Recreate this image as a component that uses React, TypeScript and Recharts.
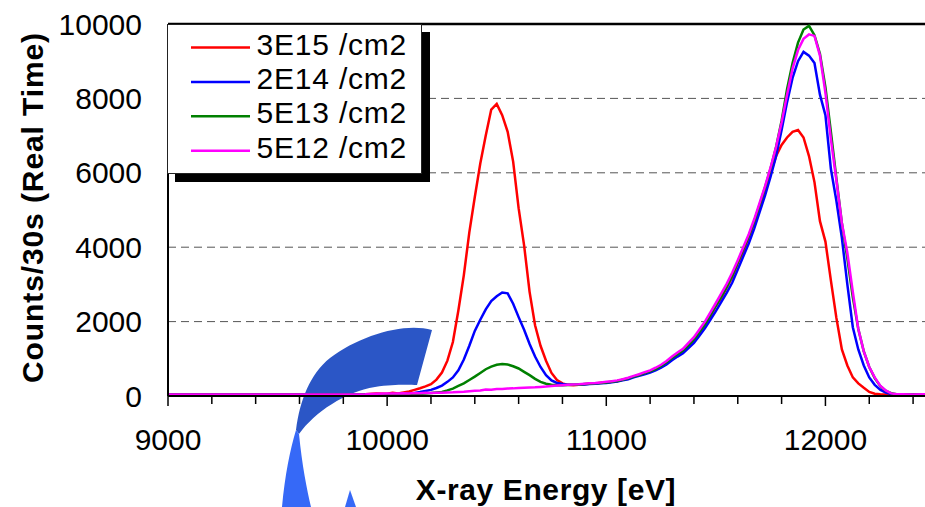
import React from "react"
import {
  LineChart,
  Line,
  XAxis,
  YAxis,
  CartesianGrid,
  Legend,
  ReferenceLine,
  Customized,
} from "recharts"

const FONT = "'Liberation Sans', Arial, sans-serif"

// X-ray energy in eV
const ENERGY = [
  9000, 9250, 9500, 9750, 9900, 9950,
  10000, 10025, 10050, 10075, 10100, 10125, 10150, 10175, 10200, 10225,
  10250, 10275, 10300, 10325, 10350, 10375, 10400, 10425, 10450, 10475,
  10500, 10525, 10550, 10575, 10600, 10625, 10650, 10675, 10700, 10725,
  10750, 10775, 10800, 10825, 10850, 10875, 10900, 10925, 10950, 10975,
  11000, 11025, 11050, 11075, 11100, 11125, 11150, 11175, 11200, 11225,
  11250, 11275, 11300, 11325, 11350, 11375, 11400, 11425, 11450, 11475,
  11500, 11525, 11550, 11575, 11600, 11625, 11650, 11675, 11700, 11725,
  11750, 11775, 11800, 11825, 11850, 11875, 11900, 11925, 11950, 11975,
  12000, 12025, 12050, 12075, 12100, 12125, 12150, 12175, 12200, 12225,
  12250, 12275, 12300, 12325, 12350, 12400, 12450, 12500,
]

// counts per 30 s for each implant dose
const DOSE_3E15 = [
  40, 40, 40, 40, 45, 70,
  60, 85, 70, 95, 120, 165, 210, 260, 320, 440,
  630, 950, 1450, 2300, 3250, 4400, 5350, 6250, 7000, 7700,
  7850, 7550, 7100, 6300, 5050, 4050, 2800, 1900, 1350, 950,
  620, 430, 340, 300, 290, 300, 315, 335, 335, 355,
  360, 385, 395, 440, 465, 520, 570, 600, 670, 730,
  790, 910, 1000, 1120, 1210, 1340, 1520, 1690, 1920, 2140,
  2420, 2640, 2920, 3200, 3560, 3880, 4260, 4650, 5100, 5500,
  6000, 6450, 6750, 6950, 7100, 7150, 6950, 6450, 5750, 4700,
  4150, 3100, 2100, 1250, 820, 500, 340, 220, 110, 60,
  45, 40, 40, 40, 40, 40, 40, 40,
]

const DOSE_2E14 = [
  40, 40, 40, 40, 40, 45,
  45, 50, 50, 60, 65, 80, 105, 135, 165, 215,
  280, 380, 500, 690, 980, 1350, 1750, 2050, 2330, 2550,
  2680, 2780, 2760, 2480, 2120, 1780, 1400, 1060, 780, 560,
  420, 350, 320, 305, 300, 305, 310, 320, 330, 345,
  350, 370, 390, 420, 450, 500, 540, 580, 630, 690,
  760, 850, 960, 1060, 1150, 1290, 1430, 1620, 1820, 2050,
  2280, 2530, 2780, 3050, 3400, 3750, 4100, 4500, 4950, 5400,
  5900, 6450, 7150, 7900, 8550, 9000, 9250, 9150, 8950, 8100,
  7550, 6100, 5250, 4250, 3000, 1850, 1250, 820, 500, 300,
  170, 90, 55, 45, 40, 40, 40, 40,
]

const DOSE_5E13 = [
  40, 40, 40, 40, 40, 40,
  40, 45, 40, 50, 55, 50, 60, 70, 80, 95,
  110, 150, 200, 270, 340, 430, 520, 620, 720, 790,
  840, 860, 845, 800, 740, 650, 560, 460, 380, 330,
  300, 290, 290, 295, 300, 305, 320, 330, 345, 350,
  365, 385, 405, 435, 475, 520, 565, 615, 665, 725,
  810, 905, 1020, 1120, 1220, 1370, 1520, 1720, 1930, 2180,
  2430, 2680, 2940, 3240, 3600, 3950, 4300, 4700, 5150, 5620,
  6120, 6700, 7400, 8250, 8950, 9500, 9850, 9950, 9700, 9200,
  8300, 7100, 5850, 4650, 3700, 2650, 1800, 1200, 780, 480,
  270, 140, 75, 50, 45, 40, 40, 40,
]

const DOSE_5E12 = [
  40, 40, 40, 40, 45, 60,
  65, 70, 65, 75, 70, 80, 75, 85, 80, 90,
  85, 95, 100, 110, 115, 130, 140, 150, 175, 170,
  190, 185, 200, 205, 215, 225, 230, 235, 245, 255,
  270, 280, 290, 300, 310, 315, 330, 340, 350, 365,
  380, 395, 420, 450, 490, 540, 585, 640, 690, 760,
  840, 940, 1060, 1170, 1270, 1430, 1580, 1790, 2000, 2250,
  2500, 2760, 3020, 3320, 3650, 4000, 4350, 4750, 5200, 5650,
  6150, 6700, 7350, 8100, 8800, 9300, 9600, 9720, 9680, 9150,
  8150, 6900, 5800, 4650, 3850, 2800, 1800, 1200, 780, 500,
  280, 150, 70, 50, 45, 40, 50, 40,
]

const SERIES = [
  { key: "d3e15", name: "3E15 /cm2", color: "#ff0000", values: DOSE_3E15 },
  { key: "d2e14", name: "2E14 /cm2", color: "#0000ff", values: DOSE_2E14 },
  { key: "d5e13", name: "5E13 /cm2", color: "#008000", values: DOSE_5E13 },
  { key: "d5e12", name: "5E12 /cm2", color: "#ff00ff", values: DOSE_5E12 },
]

const X_TICKS = [
  9000, 9200, 9400, 9600, 9800, 10000, 10200, 10400, 10600, 10800,
  11000, 11200, 11400, 11600, 11800, 12000, 12200, 12400,
]
const X_LABELS = [9000, 10000, 11000, 12000]
const Y_TICKS = [0, 2000, 4000, 6000, 8000, 10000]

const data = ENERGY.map((e, i) => {
  const row: Record<string, number> = { energy: e }
  SERIES.forEach((s) => {
    row[s.key] = s.values[i]
  })
  return row
})

function XTick(props: any) {
  const { x, y, payload } = props
  const major = X_LABELS.includes(payload.value)
  return (
    <g>
      <line x1={x} y1={y} x2={x} y2={y + (major ? 10 : 8)} stroke="#000" strokeWidth={1.5} />
      {major && (
        <text x={x} y={y + 54} textAnchor="middle" fontSize={30} fontFamily={FONT} fill="#000">
          {payload.value}
        </text>
      )}
    </g>
  )
}

function LegendBox() {
  return (
    <div
      style={{
        width: 255,
        height: 150,
        boxSizing: "border-box",
        border: "1.5px solid #222",
        background: "#fff",
        boxShadow: "8px 8px 0 #000",
      }}
    >
      <svg width={252} height={147} style={{ display: "block" }}>
        {SERIES.map((s, i) => (
          <g key={s.key}>
            <line x1={23} x2={82} y1={22.5 + i * 34.4} y2={22.5 + i * 34.4} stroke={s.color} strokeWidth={2.5} />
            <text x={88.5} y={29.5 + i * 34.4} fontSize={30} fontFamily={FONT} fill="#000" letterSpacing={0.8}>
              {s.name}
            </text>
          </g>
        ))}
      </svg>
    </div>
  )
}

// fragment of the watermark logo sitting over the lower left of the plot
function Watermark() {
  return (
    <g>
      <path
        d="M432,330 C405,322 360,335 330,358 C310,374 300,400 296,430 L299,434 C315,412 345,392 375,387 C395,384 410,385 417,385 Z"
        fill="#2b56c6"
      />
      <path d="M296,430 C290,450 285,475 282,507 L311,507 C307,490 302,465 299,434 Z" fill="#3669f7" />
      <path d="M345,507 L350,490 L356,507 Z" fill="#3669f7" />
    </g>
  )
}

export default function App() {
  return (
    <div
      style={{
        position: "fixed",
        left: 0,
        top: 0,
        width: 925,
        height: 507,
        overflow: "hidden",
        background: "#fff",
      }}
    >
      <LineChart width={960} height={520} data={data} margin={{ top: 24, right: 25, bottom: 64, left: 0 }}>
        <CartesianGrid vertical={false} stroke="#555" strokeDasharray="8 5" />
        <XAxis
          dataKey="energy"
          type="number"
          domain={[9000, 12500]}
          ticks={X_TICKS}
          interval={0}
          height={60}
          tickSize={0}
          tickMargin={0}
          tickLine={false}
          axisLine={{ stroke: "#000", strokeWidth: 2 }}
          tick={<XTick />}
          label={{
            value: "X-ray Energy [eV]",
            content: () => (
              <text
                x={546}
                y={500}
                textAnchor="middle"
                fontSize={30}
                fontWeight="bold"
                fontFamily={FONT}
                letterSpacing={0.6}
                fill="#000"
              >
                X-ray Energy [eV]
              </text>
            ),
          }}
        />
        <YAxis
          type="number"
          domain={[0, 10000]}
          ticks={Y_TICKS}
          width={168}
          tickSize={0}
          tickMargin={26}
          tickLine={false}
          axisLine={{ stroke: "#000", strokeWidth: 2 }}
          tick={{ fill: "#000", fontSize: 30, fontFamily: FONT }}
          label={{
            value: "Counts/30s (Real Time)",
            content: () => (
              <text
                x={42.5}
                y={207.5}
                transform="rotate(-90 42.5 207.5)"
                textAnchor="middle"
                fontSize={30}
                fontWeight="bold"
                fontFamily={FONT}
                letterSpacing={0.9}
                fill="#000"
              >
                Counts/30s (Real Time)
              </text>
            ),
          }}
        />
        <ReferenceLine y={10000} stroke="#000" strokeWidth={2.5} />
        {SERIES.map((s) => (
          <Line
            key={s.key}
            dataKey={s.key}
            name={s.name}
            type="linear"
            stroke={s.color}
            strokeWidth={2.5}
            dot={false}
            isAnimationActive={false}
          />
        ))}
        <Legend
          layout="vertical"
          align="center"
          verticalAlign="middle"
          content={() => <LegendBox />}
          wrapperStyle={{ left: 167, top: 24, width: "auto", height: "auto" }}
        />
        <Customized component={Watermark} />
      </LineChart>
    </div>
  )
}
